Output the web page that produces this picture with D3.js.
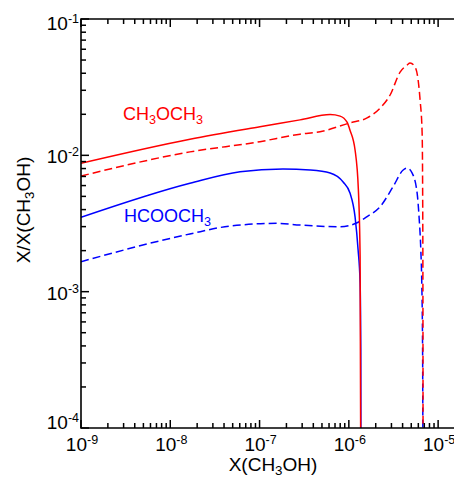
<!DOCTYPE html>
<html>
<head>
<meta charset="utf-8">
<script src="https://cdn.jsdelivr.net/npm/d3@7"></script>
<style>
  body { margin: 0; background: #fff; }
  svg { display: block; font-family: "Liberation Sans", Arial, sans-serif; }
</style>
</head>
<body>
<svg id="chart"></svg>
<script>
var WIDTH = 454;
var HEIGHT = 477;

// x = X(CH3OH), y = X/X(CH3OH)
var ch3och3SolidX = [1e-9, 1.66e-8, 1.01e-7, 2.84e-7, 6.17e-7, 7.98e-7, 9.55e-7, 1.03e-6, 1.175e-6, 1.279e-6, 1.337e-6, 1.371e-6];
var ch3och3SolidY = [8.73e-3, 1.31e-2, 1.62e-2, 1.82e-2, 1.99e-2, 1.94e-2, 1.75e-2, 1.53e-2, 1.09e-2, 5.56e-3, 1.8e-3, 1e-5];

var ch3och3DashX = [1e-9, 1.66e-8, 1.01e-7, 2.84e-7, 4.76e-7, 1.03e-6, 1.60e-6, 2.24e-6, 2.90e-6, 3.75e-6, 4.50e-6, 4.85e-6, 5.52e-6, 5.97e-6, 6.28e-6, 6.62e-6, 6.70e-6, 6.76e-6, 6.79e-6];
var ch3och3DashY = [7.05e-3, 1.06e-2, 1.26e-2, 1.43e-2, 1.49e-2, 1.73e-2, 1.88e-2, 2.22e-2, 2.77e-2, 4.08e-2, 4.6e-2, 4.76e-2, 4.45e-2, 3.57e-2, 2.55e-2, 1.46e-2, 6.6e-3, 8.7e-4, 1e-5];

var hcooch3SolidX = [1e-9, 1.66e-8, 6.05e-8, 1.83e-7, 3.68e-7, 6.17e-7, 8.63e-7, 1.03e-6, 1.175e-6, 1.27e-6, 1.337e-6, 1.361e-6, 1.371e-6];
var hcooch3SolidY = [3.51e-3, 6.24e-3, 7.59e-3, 7.94e-3, 7.8e-3, 7.41e-3, 6.37e-3, 5.29e-3, 3.52e-3, 2.02e-3, 1.16e-3, 3.73e-4, 1e-5];

var hcooch3DashX = [1e-9, 1.66e-8, 4.68e-8, 1.57e-7, 2.84e-7, 7.98e-7, 1.236e-6, 1.60e-6, 2.24e-6, 3.13e-6, 4.06e-6, 4.50e-6, 5.12e-6, 5.82e-6, 6.12e-6, 6.40e-6, 6.56e-6, 6.70e-6, 6.79e-6];
var hcooch3DashY = [1.66e-3, 2.65e-3, 3.03e-3, 3.17e-3, 3.08e-3, 2.99e-3, 3.2e-3, 3.55e-3, 4.2e-3, 5.89e-3, 7.8e-3, 8.07e-3, 7.41e-3, 5.28e-3, 3.52e-3, 2.02e-3, 1.16e-3, 3.73e-4, 1e-5];

var xDomain = [1e-9, 2e-5];
var yDomain = [1e-4, 1e-1];
var xMajorTicks = [1e-9, 1e-8, 1e-7, 1e-6, 1e-5];
var xTickExps = ["-9", "-8", "-7", "-6", "-5"];
var yMajorTicks = [1e-1, 1e-2, 1e-3, 1e-4];
var yTickExps = ["-1", "-2", "-3", "-4"];

var margin = {left: 81, top: 19, right: 465, bottom: 428};

var svg = d3.select("#chart").attr("width", WIDTH).attr("height", HEIGHT);

var x = d3.scaleLog().domain(xDomain).range([margin.left, margin.right]);
var y = d3.scaleLog().domain(yDomain).range([margin.bottom, margin.top]);

function minorTicks(domain) {
    var out = [];
    var e0 = Math.floor(Math.log10(domain[0]));
    var e1 = Math.ceil(Math.log10(domain[1]));
    for (var e = e0; e <= e1; e++) {
        for (var k = 2; k <= 9; k++) {
            var v = k * Math.pow(10, e);
            if (v > domain[0] && v < domain[1]) out.push(v);
        }
    }
    return out;
}
var xMinor = minorTicks(xDomain);
var yMinor = minorTicks(yDomain);

svg.append("defs").append("clipPath").attr("id", "plotclip")
    .append("rect")
    .attr("x", margin.left).attr("y", margin.top)
    .attr("width", margin.right - margin.left).attr("height", margin.bottom - margin.top);

// lines
var line = d3.line()
    .x(function(d) { return x(d[0]); })
    .y(function(d) { return y(d[1]); })
    .curve(d3.curveMonotoneX);

function zip(a, b) { return a.map(function(v, i) { return [v, b[i]]; }); }

var series = [
    {pts: zip(hcooch3SolidX, hcooch3SolidY), color: "#0000ff", dash: null},
    {pts: zip(hcooch3DashX, hcooch3DashY), color: "#0000ff", dash: "8,4"},
    {pts: zip(ch3och3SolidX, ch3och3SolidY), color: "#ff0000", dash: null},
    {pts: zip(ch3och3DashX, ch3och3DashY), color: "#ff0000", dash: "8,4"}
];

var lines = svg.append("g").attr("clip-path", "url(#plotclip)");
series.forEach(function(s) {
    lines.append("path")
        .attr("d", line(s.pts))
        .attr("fill", "none")
        .attr("stroke", s.color)
        .attr("stroke-width", 1.5)
        .attr("stroke-dasharray", s.dash);
});

// ticks, all pointing inward
var tickG = svg.append("g");

function xTicks(vals, len) {
    vals.forEach(function(v) {
        var px = x(v);
        tickG.append("line").attr("x1", px).attr("x2", px)
            .attr("y1", margin.bottom).attr("y2", margin.bottom - len)
            .attr("stroke", "#000").attr("stroke-width", 1.5);
        tickG.append("line").attr("x1", px).attr("x2", px)
            .attr("y1", margin.top).attr("y2", margin.top + len)
            .attr("stroke", "#000").attr("stroke-width", 1.5);
    });
}
function yTicks(vals, len) {
    vals.forEach(function(v) {
        var py = y(v);
        tickG.append("line").attr("y1", py).attr("y2", py)
            .attr("x1", margin.left).attr("x2", margin.left + len)
            .attr("stroke", "#000").attr("stroke-width", 1.5);
    });
}
xTicks(xMajorTicks, 8);
xTicks(xMinor, 5);
yTicks(yMajorTicks, 8);
yTicks(yMinor, 5);

// frame (right side lies beyond the picture)
svg.append("path")
    .attr("d", "M" + WIDTH + "," + margin.top + "H" + margin.left + "V" + margin.bottom + "H" + WIDTH)
    .attr("fill", "none").attr("stroke", "#000").attr("stroke-width", 1.6);

// tick labels
function powLabel(sel, exp) {
    sel.append("tspan").text("10");
    sel.append("tspan").attr("font-size", 12.5).attr("dy", -7).text(exp);
}

xMajorTicks.forEach(function(v, i) {
    svg.append("text")
        .attr("x", x(v) + 1).attr("y", 451)
        .attr("text-anchor", "middle").attr("font-size", 19)
        .call(powLabel, xTickExps[i]);
});

yMajorTicks.forEach(function(v, i) {
    var off = i === 0 ? 11 : (i === yMajorTicks.length - 1 ? 1 : 8);
    svg.append("text")
        .attr("x", 79).attr("y", y(v) + off)
        .attr("text-anchor", "end").attr("font-size", 19)
        .call(powLabel, yTickExps[i]);
});

// chemical formula labels with subscripts
function chemLabel(sel, parts) {
    parts.forEach(function(p) {
        if (p.sub) {
            sel.append("tspan").attr("font-size", "0.7em").attr("dy", 4).text(p.t);
        } else {
            sel.append("tspan").attr("dy", p.after ? -4 : 0).text(p.t);
        }
    });
}

svg.append("text")
    .attr("x", 273).attr("y", 471)
    .attr("text-anchor", "middle").attr("font-size", 19)
    .call(chemLabel, [{t: "X(CH"}, {t: "3", sub: true}, {t: "OH)", after: true}]);

svg.append("text")
    .attr("transform", "translate(30,210) rotate(-90)")
    .attr("text-anchor", "middle").attr("font-size", 19)
    .call(chemLabel, [{t: "X/X(CH"}, {t: "3", sub: true}, {t: "OH)", after: true}]);

// series labels
svg.append("text")
    .attr("x", 123).attr("y", 120)
    .attr("fill", "#ff0000").attr("font-size", 18)
    .call(chemLabel, [{t: "CH"}, {t: "3", sub: true}, {t: "OCH", after: true}, {t: "3", sub: true}]);

svg.append("text")
    .attr("x", 124).attr("y", 222)
    .attr("fill", "#0000ff").attr("font-size", 18)
    .call(chemLabel, [{t: "HCOOCH"}, {t: "3", sub: true}]);
</script>
</body>
</html>
